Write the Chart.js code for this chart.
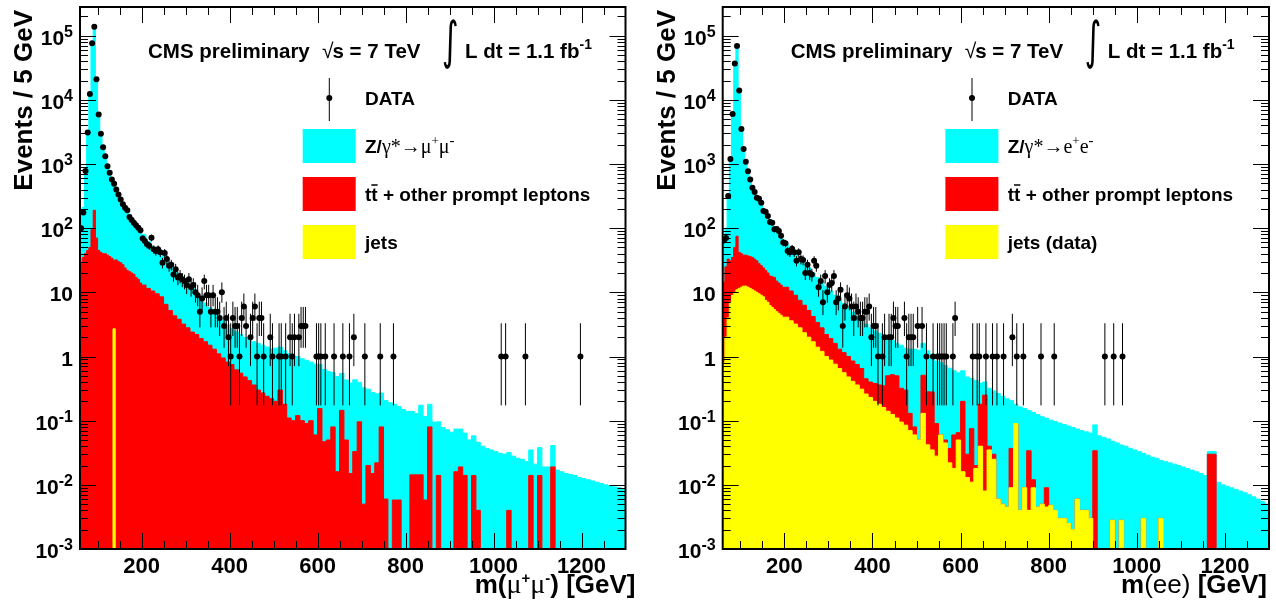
<!DOCTYPE html>
<html>
<head>
<meta charset="utf-8">
<title>Dilepton invariant mass</title>
<script src="https://cdn.jsdelivr.net/npm/chart.js@4.4.0/dist/chart.umd.min.js"></script>
<style>
  html, body { margin: 0; padding: 0; background: #fff; }
  #wrap { position: relative; width: 1276px; height: 606px; }
  canvas { position: absolute; top: 0; }
  #muChart { left: 0; }
  #eeChart { left: 638px; }
</style>
</head>
<body>
<div id="wrap">
  <canvas id="muChart" width="638" height="606"></canvas>
  <canvas id="eeChart" width="638" height="606"></canvas>
</div>
<script>
// bins: 5 GeV from 60 to 200, 10 GeV from 200 to 1300 (values are Events / 5 GeV)
const fineBins = [];
for (let m = 60; m < 200; m += 5) fineBins.push(m);
const coarseBins = [];
for (let m = 200; m < 1300; m += 10) coarseBins.push(m);
const binLow = fineBins.concat(coarseBins);

// ---- mu mu channel ----
const muZLow = [170, 175, 760, 3250, 12950, 79900, 134800, 21900, 5950, 2960, 1810, 1290, 910, 715,
  545, 468, 378, 315, 261, 223, 191, 168, 139, 120, 103, 93, 84, 76];
const muTTLow = [28, 35, 40, 45, 50, 95, 190, 70, 45, 42, 40, 40, 38, 36,
  34, 29, 32, 30, 29, 27, 24, 22, 21, 20, 19, 17, 16, 14];
const muJetsLow = [0, 0, 0, 0, 0, 0, 0, 0, 0, 0, 0, 0, 0, 0,
  0, 2.7, 0, 0, 0, 0, 0, 0, 0, 0, 0, 0, 0, 0];

const muZHigh = [
  67, 50.5, 41.5, 35.5, 29.5, 25.5, 21.8, 17.7, 15.2, 12.8,
  10.7, 9.1, 7.3, 6.1, 5.1, 4.3, 3.7, 3.2, 2.75, 2.3,
  1.95, 1.8, 1.65, 1.5, 1.43, 1.34, 1.3, 1.23, 1.16, 1.08,
  1.15, 1.1, 1.05, 1.0, 0.92, 0.88, 0.82, 0.78, 0.72, 0.7,
  0.6, 0.58, 0.53, 0.48, 0.47, 0.4, 0.38, 0.37, 0.4, 0.3,
  0.32, 0.29, 0.26, 0.24, 0.19, 0.2, 0.19, 0.175, 0.16, 0.15,
  0.14, 0.125, 0.115, 0.16, 0.11, 0.1, 0.095, 0.082, 0.078, 0.072,
  0.066, 0.058, 0.055, 0.05, 0.05, 0.044, 0.042, 0.04, 0.037, 0.035,
  0.033, 0.031, 0.03, 0.028, 0.028, 0.026, 0.025, 0.023, 0.021, 0.021,
  0.024, 0.019, 0.019, 0.022, 0.017, 0.016, 0.015, 0.0145, 0.014, 0.013,
  0.0125, 0.012, 0.0115, 0.011, 0.0105, 0.01, 0.0097, 0.0093, 0.009, 0.0087
];
const muTTHigh = [
  13, 11.5, 10.5, 9.5, 8.5, 6.5, 5.2, 4.3, 3.8, 3.2,
  2.8, 2.4, 2.2, 1.9, 1.7, 1.5, 1.3, 1.1, 0.95, 0.82,
  0.75, 0.62, 0.55, 0.48, 0.42, 0.36, 0.3, 0.27, 0.24, 0.22,
  0.2, 0.3, 0.18, 0.11, 0.1, 0.12, 0.1, 0.09, 0.1, 0.06,
  0.155, 0.047, 0.05, 0.08, 0.016, 0.145, 0.05, 0.015, 0.033, 0.096,
  0.005, 0.02, 0.015, 0.022, 0.08, 0.006, 0, 0.0058, 0.0058, 0,
  0, 0.0143, 0.0143, 0.0143, 0.0058, 0.08, 0, 0.014, 0, 0,
  0, 0.016, 0.019, 0.014, 0, 0.014, 0.004, 0, 0, 0,
  0, 0, 0, 0.004, 0, 0, 0, 0, 0.014, 0,
  0.014, 0, 0, 0.019, 0, 0, 0, 0, 0, 0,
  0, 0, 0, 0, 0, 0, 0, 0, 0, 0
];
const muJetsHigh = [
  0, 0, 0, 0, 0, 0, 0, 0, 0, 0,  0, 0, 0, 0, 0, 0, 0, 0, 0, 0,
  0, 0, 0, 0, 0, 0, 0, 0, 0, 0,  0, 0, 0, 0, 0, 0, 0, 0, 0, 0,
  0, 0, 0, 0, 0, 0, 0, 0, 0, 0,  0, 0, 0, 0, 0, 0, 0, 0, 0, 0,
  0, 0, 0, 0, 0, 0, 0, 0, 0, 0,  0, 0, 0, 0, 0, 0, 0, 0, 0, 0,
  0, 0, 0, 0, 0, 0, 0, 0, 0, 0,  0, 0, 0, 0, 0, 0, 0, 0, 0, 0,
  0, 0, 0, 0, 0, 0, 0, 0, 0, 0
];

// data: lower edge of 5 GeV bin and event count (empty bins left out)
const muDataBin = [60, 65, 70, 75, 80, 85, 90, 95, 100, 105, 110, 115, 120, 125, 130, 135, 140, 145,
  150, 155, 160, 165, 170, 175, 180, 185, 190, 195,
  200, 205, 210, 215, 220, 225, 230, 235, 240, 245, 250, 255, 260, 265, 270, 275, 280, 285, 290, 295,
  300, 305, 310, 315, 320, 325, 330, 335, 340, 345, 350, 355, 360, 365, 370, 375, 380, 385, 390, 395,
  400, 405, 410, 415, 420, 425, 430, 435,
  445, 450, 455, 460, 465, 470, 475, 490, 495, 510, 515, 525, 535, 540, 545, 555, 560, 565, 570,
  595, 600, 605, 615, 635, 655, 670, 680, 705, 740, 770, 1015, 1025, 1070, 1195];
const muDataCount = [100, 175, 780, 3100, 12300, 76000, 138000, 21000, 5900, 2950, 1820, 1320, 925, 730,
  575, 492, 402, 336, 281, 235, 209, 190, 149, 134, 122, 111, 102, 93,
  69, 63, 56, 53, 71, 47, 44, 47, 42, 29, 41, 33, 26, 27, 19, 23, 17, 18, 16, 15,
  13, 16, 12, 13, 10, 9, 5, 8, 15, 9, 9, 5, 9, 5, 5, 4, 10, 3, 4, 2,
  1, 4, 3, 3, 1, 4, 6, 3,
  2, 4, 6, 1, 4, 4, 1, 2, 1, 1, 1, 1, 2, 1, 2, 2, 3, 3, 3,
  1, 1, 1, 1, 1, 1, 1, 2, 1, 1, 1, 1, 1, 1, 1];

// ---- e e channel ----
const eeZLow = [55, 75, 297, 1219, 6165, 37950, 69925, 14458, 3560, 1712, 1062, 743, 544, 405,
  327, 269, 242, 209, 176, 153, 135, 117, 102, 88, 80, 71, 62, 54];
const eeTTLow = [13.7, 23, 29, 24, 26, 40, 64, 30.5, 28, 25.5, 25.5, 25, 24.5, 24,
  22.5, 21, 18.5, 17, 15.5, 14.5, 13, 11.8, 11.7, 11.6, 10, 9.3, 8.6, 7.9];
const eeJetsLow = [0.8, 2, 4, 7, 9, 10, 11, 11.5, 12, 12.5, 12.5, 12, 11.5, 11,
  10.5, 10, 9.5, 9, 8.5, 7.5, 7, 6.2, 5.8, 5.4, 5, 4.7, 4.4, 4.1];

const eeZHigh = [
  43, 35.5, 30, 25.5, 21.7, 18.8, 15.8, 13.6, 11.7, 10.1,
  8.6, 7.4, 6.5, 5.55, 4.8, 4.05, 3.45, 3.05, 2.75, 2.4,
  2.12, 1.94, 1.75, 1.4, 1.25, 1.1, 1.18, 1.05, 1.17, 1.22,
  1.2, 1.1, 0.95, 0.8, 0.76, 0.74, 0.67, 0.62, 0.54, 0.49,
  0.4, 0.45, 0.38, 0.4, 0.2, 0.15, 0.28, 0.26, 0.26, 0.235,
  0.215, 0.17, 0.09, 0.16, 0.146, 0.11, 0.123, 0.12, 0.11, 0.1,
  0.097, 0.093, 0.089, 0.084, 0.08, 0.076, 0.068, 0.066, 0.063, 0.061,
  0.052, 0.058, 0.055, 0.052, 0.045, 0.045, 0.039, 0.04, 0.037, 0.035,
  0.033, 0.028, 0.029, 0.027, 0.026, 0.021, 0.023, 0.022, 0.021, 0.02,
  0.019, 0.018, 0.017, 0.016, 0.015, 0.014, 0.003, 0.003, 0.011, 0.01,
  0.0095, 0.009, 0.0085, 0.008, 0.0075, 0.007, 0.0065, 0.006, 0.0055, 0.005
];
const eeTTHigh = [
  7.9, 6.9, 5.8, 4.7, 3.95, 3.2, 2.5, 2.0, 1.6, 1.2,
  1.02, 0.84, 0.65, 0.59, 0.52, 0.44, 0.39, 0.34, 0.19, 0.17,
  0.18, 0.18, 0.19, 0.36, 0.395, 0.39, 0.225, 0.215, 0.06, 0.02,
  0, 0.38, 0.24, 0.245, 0.062, 0, 0.005, 0.015, 0.042, 0.015,
  0.184, 0.017, 0.064, 0.002, 0.14, 0.242, 0.005, 0.005, 0, 0,
  0, 0.028, 0, 0, 0, 0.03, 0.003, 0, 0, 0.0045,
  0, 0, 0, 0, 0, 0, 0, 0, 0, 0,
  0.034, 0, 0, 0, 0, 0, 0, 0, 0, 0,
  0, 0, 0, 0, 0, 0, 0, 0, 0, 0,
  0, 0, 0, 0, 0, 0, 0.03, 0.03, 0, 0,
  0, 0, 0, 0, 0, 0, 0, 0, 0, 0
];
const eeJetsHigh = [
  4.1, 3.6, 3.2, 2.8, 2.35, 2.0, 1.7, 1.4, 1.2, 1.0,
  0.88, 0.76, 0.65, 0.56, 0.48, 0.41, 0.36, 0.31, 0.26, 0.23,
  0.2, 0.18, 0.16, 0.14, 0.125, 0.11, 0.095, 0.085, 0.07, 0.06,
  0.05, 0.13, 0.042, 0.035, 0.028, 0.06, 0.045, 0.022, 0.018, 0.05,
  0.016, 0.013, 0.011, 0.018, 0.04, 0.008, 0.035, 0.025, 0.006, 0.005,
  0.0045, 0.009, 0.09, 0.004, 0.009, 0.004, 0.009, 0.0045, 0.005, 0.0045,
  0.0048, 0.004, 0.003, 0.003, 0.0025, 0.002, 0.006, 0.004, 0.004, 0.003,
  0, 0, 0, 0, 0.0028, 0, 0.0028, 0, 0, 0,
  0, 0.003, 0, 0, 0, 0.003, 0, 0, 0, 0,
  0, 0, 0, 0, 0, 0, 0, 0, 0, 0,
  0, 0, 0, 0, 0, 0, 0, 0, 0, 0
];

const eeDataBin = [60, 65, 70, 75, 80, 85, 90, 95, 100, 105, 110, 115, 120, 125, 130, 135, 140, 145,
  150, 155, 160, 165, 170, 175, 180, 185, 190, 195,
  200, 205, 210, 215, 220, 225, 230, 235, 240, 245, 250, 255, 260, 265, 270, 275, 280, 285, 290, 295,
  300, 305, 310, 315, 320, 325, 330, 335, 340, 345, 350, 355, 360, 365, 370, 375, 380, 385, 390, 395,
  400, 405, 410,
  420, 425, 435, 440, 445, 450, 455, 470, 475, 480, 485, 490, 500, 510, 520, 535, 545, 550, 555, 560,
  565, 580, 585, 625, 635, 640, 655, 670, 680, 695, 715, 725, 740, 780, 810, 925, 945, 965];
const eeDataCount = [65, 70, 316, 1200, 6000, 37000, 69000, 14000, 3500, 1720, 1080, 773, 575, 427,
  366, 299, 288, 250, 185, 180, 155, 125, 122, 96, 97, 90, 76, 60,
  58, 44, 42, 48, 42, 31, 42, 33, 32, 20, 27, 20, 19, 31, 26, 12, 15, 7, 18, 10,
  13, 14, 18, 7, 8, 11, 3, 6, 9, 8, 6, 4, 6, 5, 4, 4, 5, 5, 6, 2,
  3, 3, 1,
  1, 2, 2, 2, 4, 3, 3, 4, 1, 2, 2, 2, 3, 3, 1, 1, 1, 1, 1, 1,
  1, 1, 4, 1, 1, 1, 1, 1, 1, 1, 2, 1, 1, 1, 1, 1, 1, 1];

// ---- drawing ----
const X_MIN = 60, X_MAX = 1300, Y_MIN = 1e-3, Y_MAX = 2.8e5;
const CYAN = '#00ffff', RED = '#ff0000', YELLOW = '#ffff00';
const SANS = '"Liberation Sans", Arial, Helvetica, sans-serif';
const SERIF = '"Liberation Serif", "Times New Roman", serif';
const B = s => `bold ${s}px ${SANS}`;
const R = s => `${s}px ${SANS}`;
const S = s => `${s}px ${SERIF}`;

// 68% Garwood intervals for small counts
const garwoodLow = [0, 0.173, 0.708, 1.367, 2.086, 2.840, 3.620, 4.419, 5.232, 6.057, 6.891];
const garwoodHigh = [1.841, 3.300, 4.638, 5.918, 7.163, 8.382, 9.584, 10.77, 11.95, 13.11, 14.27];
function poissonBand(n) {
  if (n <= 10) return [garwoodLow[n], garwoodHigh[n]];
  const s = Math.sqrt(n);
  return [n - s, n + s];
}

function stack(...parts) { // bottom component first
  const out = [];
  let acc = binLow.map(() => 0);
  for (const p of parts) {
    acc = acc.map((a, i) => a + p[i]);
    out.push(acc);
  }
  return out;
}

function histPoints(vals) {
  // zero bins would be dropped by the log scale, push them below the frame instead
  const pts = binLow.map((m, i) => ({ x: m, y: vals[i] > 0 ? vals[i] : 1e-9 }));
  pts.push({ x: X_MAX, y: pts[pts.length - 1].y });
  return pts;
}

function histDataset(label, vals, color) {
  return {
    label, data: histPoints(vals), stepped: 'before', fill: 'start',
    backgroundColor: color, borderColor: color, borderWidth: 1, pointRadius: 0
  };
}

function dataDataset(bins, counts) {
  return {
    label: 'DATA', errorBars: true, showLine: false,
    data: bins.map((b, i) => ({ x: b + 2.5, y: counts[i] })),
    pointRadius: 3, pointBackgroundColor: '#000', pointBorderColor: '#000', pointBorderWidth: 0
  };
}

const errorBarPlugin = {
  id: 'errorBars',
  afterDatasetsDraw(chart) {
    const { ctx, chartArea: a, scales: { x, y } } = chart;
    ctx.save();
    ctx.beginPath();
    ctx.rect(a.left, a.top, a.right - a.left, a.bottom - a.top);
    ctx.clip();
    ctx.strokeStyle = '#000';
    ctx.lineWidth = 1;
    ctx.beginPath();
    chart.data.datasets.forEach(ds => {
      if (!ds.errorBars) return;
      ds.data.forEach(p => {
        const [lo, hi] = poissonBand(p.y);
        const px = x.getPixelForValue(p.x);
        const yLo = lo > 0 ? y.getPixelForValue(lo) : a.bottom + 5;
        ctx.moveTo(px, yLo);
        ctx.lineTo(px, y.getPixelForValue(hi));
      });
    });
    ctx.stroke();
    ctx.restore();
  }
};

function runsWidth(ctx, runs) {
  let w = 0;
  for (const r of runs) { ctx.font = r.f; w += ctx.measureText(r.t).width; }
  return w;
}
function drawRuns(ctx, x, y, runs) {
  for (const r of runs) {
    ctx.font = r.f;
    ctx.fillText(r.t, x, y + (r.dy || 0));
    x += ctx.measureText(r.t).width;
  }
  return x;
}

function yLabelRuns(e) {
  if (e === 0) return [{ t: '1', f: B(21) }];
  if (e === 1) return [{ t: '10', f: B(21) }];
  return [{ t: '10', f: B(21) }, { t: String(e), f: B(16), dy: -8 }];
}

function makeDeco(cfg) {
  return {
    id: 'rootDeco',
    afterDraw(chart) {
      const { ctx, chartArea: a, scales: { x, y } } = chart;
      ctx.save();
      ctx.fillStyle = '#000';
      ctx.strokeStyle = '#000';
      ctx.textAlign = 'left';
      ctx.textBaseline = 'alphabetic';

      // inward ticks on all four sides
      ctx.lineWidth = 1;
      ctx.beginPath();
      for (let m = 100; m < X_MAX; m += 50) {
        const px = Math.round(x.getPixelForValue(m)) + 0.5;
        const len = m % 200 === 0 ? 16 : 8;
        ctx.moveTo(px, a.bottom); ctx.lineTo(px, a.bottom - len);
        ctx.moveTo(px, a.top); ctx.lineTo(px, a.top + len);
      }
      for (let e = -3; e <= 5; e++) {
        for (let k = 1; k <= 9; k++) {
          const v = k * Math.pow(10, e);
          if (v > Y_MAX) continue;
          const py = Math.round(y.getPixelForValue(v)) + 0.5;
          const len = k === 1 ? 16 : 8;
          ctx.moveTo(a.left, py); ctx.lineTo(a.left + len, py);
          ctx.moveTo(a.right, py); ctx.lineTo(a.right - len, py);
        }
      }
      ctx.stroke();
      ctx.lineWidth = 2;
      ctx.strokeRect(a.left, a.top, a.right - a.left, a.bottom - a.top);

      // tick labels
      ctx.font = B(22);
      ctx.textAlign = 'center';
      for (let m = 200; m <= 1200; m += 200) {
        ctx.fillText(String(m), x.getPixelForValue(m), a.bottom + 24);
      }
      ctx.textAlign = 'left';
      for (let e = -3; e <= 5; e++) {
        const runs = yLabelRuns(e);
        const w = runsWidth(ctx, runs);
        drawRuns(ctx, a.left - 7 - w, y.getPixelForValue(Math.pow(10, e)) + 9, runs);
      }

      // axis titles
      const xw = runsWidth(ctx, cfg.xTitle);
      drawRuns(ctx, a.right + cfg.xTitleShift - xw, a.bottom + 44, cfg.xTitle);
      ctx.save();
      ctx.translate(a.left - 48, a.top + 3);
      ctx.rotate(-Math.PI / 2);
      ctx.textAlign = 'right';
      ctx.font = B(26);
      ctx.fillText('Events / 5 GeV', 0, 0);
      ctx.restore();

      // header
      const hy = a.top + 51;
      ctx.font = B(20.5);
      ctx.fillText('CMS preliminary', a.left + 68, hy);
      let hx = a.left + 242;
      ctx.font = R(21);
      ctx.fillText('\u221A', hx, hy);
      hx += ctx.measureText('\u221A').width - 1;
      ctx.font = B(20.5);
      ctx.fillText('s = 7 TeV', hx, hy);
      ctx.save();
      ctx.translate(a.left + 362, hy);
      ctx.scale(1, 1.6);
      ctx.font = `32px "DejaVu Sans", ${SANS}`;
      ctx.fillText('\u222B', 0, 0);
      ctx.restore();
      drawRuns(ctx, a.left + 385, hy, [{ t: 'L dt = 1.1 fb', f: B(20.5) }, { t: '-1', f: B(14), dy: -9 }]);

      // legend
      const lx = a.left + 222.7, tx = a.left + 285;
      ctx.lineWidth = 1;
      ctx.beginPath();
      ctx.moveTo(a.left + 249.3, a.top + 71); ctx.lineTo(a.left + 249.3, a.top + 114);
      ctx.stroke();
      ctx.beginPath();
      ctx.arc(a.left + 249.3, a.top + 91, 3, 0, Math.PI * 2);
      ctx.fill();
      ctx.font = B(19);
      ctx.fillText('DATA', tx, a.top + 98);

      const rows = [
        { c: CYAN, runs: cfg.zLabel },
        { c: RED, tt: true },
        { c: YELLOW, runs: [{ t: cfg.jetsLabel, f: B(19) }] }
      ];
      rows.forEach((r, i) => {
        const top = a.top + 122 + i * 48;
        ctx.fillStyle = r.c;
        ctx.fillRect(lx, top, 53, 34);
        ctx.fillStyle = '#000';
        const by = top + 24;
        if (r.tt) {
          ctx.font = B(19);
          const tW = ctx.measureText('t').width;
          ctx.fillText('t', tx, by);
          ctx.fillText('t', tx + tW, by);
          ctx.lineWidth = 1.5;
          ctx.beginPath();
          ctx.moveTo(tx + tW, by - 16); ctx.lineTo(tx + 2 * tW, by - 16);
          ctx.stroke();
          ctx.fillText(' + other prompt leptons', tx + 2 * tW, by);
        } else {
          drawRuns(ctx, tx, by, r.runs);
        }
      });
      ctx.restore();
    }
  };
}

function makeChart(cfg) {
  const [lvlJets, lvlTT, lvlAll] = stack(cfg.jets, cfg.tt, cfg.z);
  return new Chart(document.getElementById(cfg.id), {
    type: 'line',
    data: {
      datasets: [
        dataDataset(cfg.dataBin, cfg.dataCount),
        histDataset('jets', lvlJets, YELLOW),
        histDataset('tt', lvlTT, RED),
        histDataset('Z', lvlAll, CYAN)
      ]
    },
    options: {
      responsive: false,
      animation: false,
      devicePixelRatio: 1,
      events: [],
      layout: { padding: { top: 7, right: cfg.padRight, left: 0, bottom: 0 } },
      plugins: { legend: { display: false }, tooltip: { enabled: false } },
      scales: {
        x: {
          type: 'linear', min: X_MIN, max: X_MAX,
          ticks: { display: false }, grid: { display: false }, border: { display: false },
          afterFit: s => { s.height = 57; }
        },
        y: {
          type: 'logarithmic', min: Y_MIN, max: Y_MAX,
          ticks: { display: false }, grid: { display: false }, border: { display: false },
          afterFit: s => { s.width = cfg.axisWidth; }
        }
      }
    },
    plugins: [errorBarPlugin, makeDeco(cfg)]
  });
}

makeChart({
  id: 'muChart', axisWidth: 80, padRight: 12.5, xTitleShift: 10,
  z: muZLow.concat(muZHigh), tt: muTTLow.concat(muTTHigh), jets: muJetsLow.concat(muJetsHigh),
  dataBin: muDataBin, dataCount: muDataCount,
  jetsLabel: 'jets',
  zLabel: [
    { t: 'Z/', f: B(19) }, { t: '\u03B3*', f: S(20) }, { t: '\u2192', f: S(20) },
    { t: '\u03BC', f: S(20) }, { t: '+', f: S(13), dy: -8 },
    { t: '\u03BC', f: S(20) }, { t: '-', f: S(15), dy: -8 }
  ],
  xTitle: [
    { t: 'm(', f: B(26) }, { t: '\u03BC', f: S(28) }, { t: '+', f: B(15), dy: -10 },
    { t: '\u03BC', f: S(28) }, { t: '-', f: B(15), dy: -10 }, { t: ') [GeV]', f: B(26) }
  ]
});

makeChart({
  id: 'eeChart', axisWidth: 84.7, padRight: 7, xTitleShift: -2,
  z: eeZLow.concat(eeZHigh), tt: eeTTLow.concat(eeTTHigh), jets: eeJetsLow.concat(eeJetsHigh),
  dataBin: eeDataBin, dataCount: eeDataCount,
  jetsLabel: 'jets (data)',
  zLabel: [
    { t: 'Z/', f: B(19) }, { t: '\u03B3*', f: S(20) }, { t: '\u2192', f: S(20) },
    { t: 'e', f: S(20) }, { t: '+', f: S(13), dy: -8 },
    { t: 'e', f: S(20) }, { t: '-', f: S(15), dy: -8 }
  ],
  xTitle: [
    { t: 'm', f: B(26) }, { t: '(ee)', f: R(26) }, { t: ' [GeV]', f: B(26) }
  ]
});
</script>
</body>
</html>
